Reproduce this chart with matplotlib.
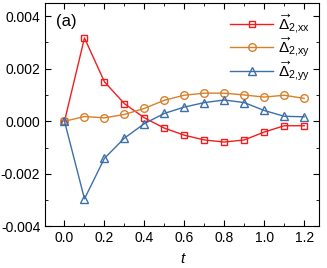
import matplotlib
matplotlib.use('Agg')
import matplotlib.pyplot as plt
from matplotlib.ticker import MultipleLocator

plt.rcParams['font.family'] = ['Liberation Sans', 'DejaVu Sans']
plt.rcParams['mathtext.fontset'] = 'custom'
plt.rcParams['mathtext.rm'] = 'Liberation Sans'
plt.rcParams['mathtext.it'] = 'Liberation Sans:italic'

t = [0.0, 0.1, 0.2, 0.3, 0.4, 0.5, 0.6, 0.7, 0.8, 0.9, 1.0, 1.1, 1.2]
d_xx = [0.0, 3.17e-3, 1.5e-3, 0.67e-3, 0.13e-3, -0.26e-3, -0.53e-3,
        -0.71e-3, -0.79e-3, -0.71e-3, -0.41e-3, -0.17e-3, -0.17e-3]
d_xy = [0.0, 0.18e-3, 0.13e-3, 0.26e-3, 0.49e-3, 0.80e-3, 0.99e-3,
        1.07e-3, 1.07e-3, 1.0e-3, 0.92e-3, 0.99e-3, 0.87e-3]
d_yy = [0.0, -2.95e-3, -1.41e-3, -0.64e-3, -0.09e-3, 0.30e-3, 0.54e-3,
        0.71e-3, 0.81e-3, 0.71e-3, 0.41e-3, 0.19e-3, 0.17e-3]
labels = [r'$\overrightarrow{\Delta}_{\mathrm{2,\!xx}}$',
          r'$\overrightarrow{\Delta}_{\mathrm{2,\!xy}}$',
          r'$\overrightarrow{\Delta}_{\mathrm{2,\!yy}}$']

fig = plt.figure(figsize=(3.27, 2.68), dpi=100)
ax = fig.add_axes([0.138, 0.155, 0.838, 0.834])

ax.plot(t, d_xx, color='#f01e1e', marker='s', mfc='none', ms=5, lw=1.0,
        label=labels[0])
ax.plot(t, d_xy, color='#d8802a', marker='o', mfc='none', ms=5.5, lw=1.0,
        label=labels[1])
ax.plot(t, d_yy, color='#3d6fa8', marker='^', mfc='none', ms=5.5, lw=1.0,
        label=labels[2])

ax.set_xlim(-0.097, 1.275)
ax.set_ylim(-0.004, 0.0045)
ax.xaxis.set_minor_locator(MultipleLocator(0.1))
ax.yaxis.set_minor_locator(MultipleLocator(0.001))
ax.set_xticks([0.0, 0.2, 0.4, 0.6, 0.8, 1.0, 1.2])
ax.set_xticklabels(['0.0', '0.2', '0.4', '0.6', '0.8', '1.0', '1.2'])
ax.set_yticks([-0.004, -0.002, 0.0, 0.002, 0.004])
ax.set_yticklabels(['-0.004', '-0.002', '0.000', '0.002', '0.004'])
ax.tick_params(which='both', direction='in', top=True, right=True, labelsize=10)
ax.tick_params(which='major', length=4)
ax.tick_params(which='minor', length=2)

ax.set_xlabel('t', fontstyle='italic', fontsize=11, labelpad=5)
ax.text(0.04, 0.95, '(a)', transform=ax.transAxes, fontsize=12, va='top')

ax.legend(loc='upper right', frameon=False, fontsize=11, handlelength=2.8,
          handletextpad=0.3, borderaxespad=0.2, labelspacing=-0.02)

fig.savefig('out.png', dpi=100)
